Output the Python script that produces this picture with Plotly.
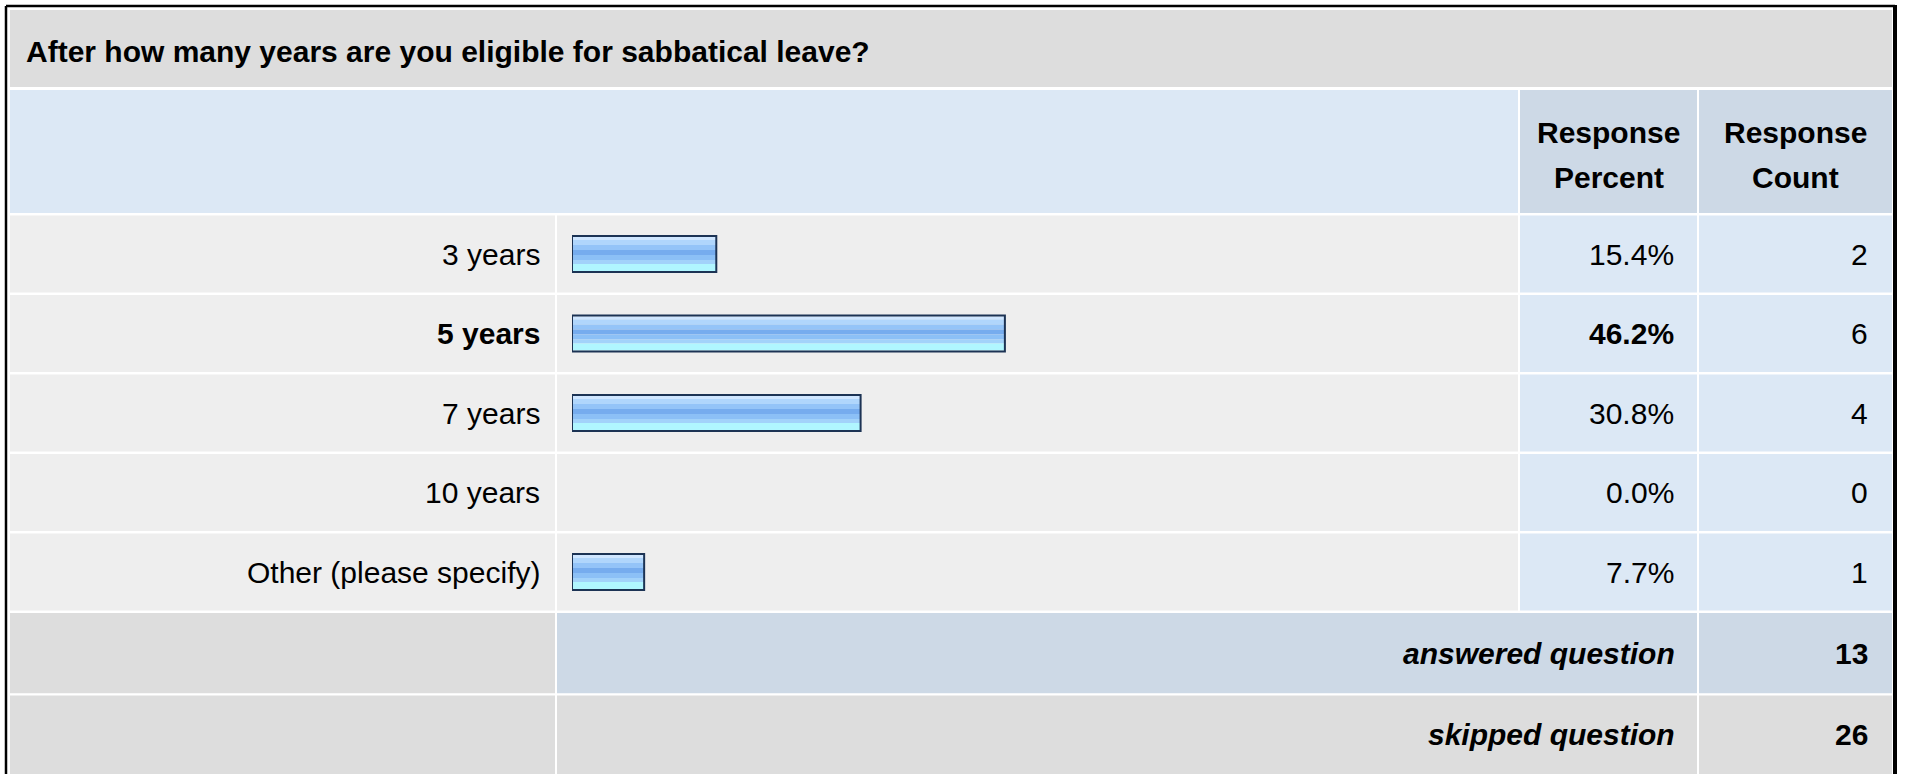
import plotly.graph_objects as go

# ---------------- Data ----------------
question = "After how many years are you eligible for sabbatical leave?"
categories = ["3 years", "5 years", "7 years", "10 years", "Other (please specify)"]
percents = [15.4, 46.2, 30.8, 0.0, 7.7]
counts = [2, 6, 4, 0, 1]
answered_count = 13
skipped_count = 26
header_cols = [["Response", "Percent"], ["Response", "Count"]]

# ---------------- Layout constants (pixels) ----------------
W, H = 1907, 774
FONT = "Arial, 'Liberation Sans', sans-serif"
FS = 30

X_LEFT, X_LBL_END = 10, 555
X_BAR0, X_BAR_END = 557, 1518
X_PCT0, X_PCT_END = 1520, 1697
X_CNT0, X_CNT_END = 1699, 1892

ROW_TOP = 214.25
ROW_PITCH = 79.5
GAP = 2.5

GRAY = "#dddddd"
ROW_GRAY = "#eeeeee"
LIGHT_BLUE = "#dce8f5"
STEEL = "#cdd9e6"


def rect(x0, y0, x1, y1, color):
    return dict(type="rect", xref="x", yref="y", x0=x0, y0=y0, x1=x1, y1=y1,
                fillcolor=color, line=dict(width=0), layer="below")


def label(x, y, text, anchor="right", bold=False, italic=False, size=FS):
    if bold:
        text = "<b>" + text + "</b>"
    if italic:
        text = "<i>" + text + "</i>"
    return dict(x=x, y=y, xref="x", yref="y", text=text, showarrow=False,
                xanchor=anchor, yanchor="middle",
                font=dict(family=FONT, size=size, color="#000000"))


shapes = []
annotations = []

# ---------------- Title band ----------------
shapes.append(rect(X_LEFT, 10, X_CNT_END, 87, GRAY))
annotations.append(label(24, 51, question, anchor="left", bold=True))

# ---------------- Header band ----------------
shapes.append(rect(X_LEFT, 90, X_BAR_END, 213, LIGHT_BLUE))
shapes.append(rect(X_PCT0, 90, X_PCT_END, 213, STEEL))
shapes.append(rect(X_CNT0, 90, X_CNT_END, 213, STEEL))
for (x0, x1), lines in zip([(X_PCT0, X_PCT_END), (X_CNT0, X_CNT_END)], header_cols):
    xc = (x0 + x1) / 2
    annotations.append(label(xc, 132, lines[0], anchor="center", bold=True))
    annotations.append(label(xc, 177, lines[1], anchor="center", bold=True))

# ---------------- Data rows ----------------
top_pct = max(percents)
for i, (cat, pct, cnt) in enumerate(zip(categories, percents, counts)):
    y0 = ROW_TOP + i * ROW_PITCH + GAP / 2
    y1 = y0 + ROW_PITCH - GAP
    yc = (y0 + y1) / 2
    bold = pct == top_pct
    shapes.append(rect(X_LEFT, y0, X_LBL_END, y1, ROW_GRAY))
    shapes.append(rect(X_BAR0, y0, X_BAR_END, y1, ROW_GRAY))
    shapes.append(rect(X_PCT0, y0, X_PCT_END, y1, LIGHT_BLUE))
    shapes.append(rect(X_CNT0, y0, X_CNT_END, y1, LIGHT_BLUE))
    annotations.append(label(542, yc, cat, bold=bold))
    annotations.append(label(1676, yc, f"{pct:.1f}%", bold=bold))
    annotations.append(label(1870, yc, str(cnt)))

# ---------------- Summary rows ----------------
ya0, ya1 = 613, 693.3
shapes.append(rect(X_LEFT, ya0, X_LBL_END, ya1, GRAY))
shapes.append(rect(X_BAR0, ya0, X_PCT_END, ya1, STEEL))
shapes.append(rect(X_CNT0, ya0, X_CNT_END, ya1, STEEL))
annotations.append(label(1677, (ya0 + ya1) / 2, "answered question", bold=True, italic=True))
annotations.append(label(1870, (ya0 + ya1) / 2, str(answered_count), bold=True))

ys0, ys1 = 695.6, 776
shapes.append(rect(X_LEFT, ys0, X_LBL_END, ys1, GRAY))
shapes.append(rect(X_BAR0, ys0, X_PCT_END, ys1, GRAY))
shapes.append(rect(X_CNT0, ys0, X_CNT_END, ys1, GRAY))
annotations.append(label(1677, (ys0 + 774) / 2, "skipped question", bold=True, italic=True))
annotations.append(label(1870, (ys0 + 774) / 2, str(skipped_count), bold=True))

# ---------------- Outer border ----------------
border = dict(color="#000000", width=2.5)
shapes.append(dict(type="line", xref="x", yref="y", x0=6, y0=6, x1=1895, y1=6, line=border))
shapes.append(dict(type="line", xref="x", yref="y", x0=6, y0=6, x1=6, y1=780, line=border))
shapes.append(dict(type="line", xref="x", yref="y", x0=1895, y0=5, x1=1895, y1=780,
                   line=dict(color="#000000", width=4)))

# ---------------- Bars (gradient stripes + outline) ----------------
stripes = [
    (-17, -14, "#cfe6ff"),
    (-14, -9, "#b0d6fc"),
    (-9, -4, "#94c4f8"),
    (-4, 1, "#76acee"),
    (1, 6, "#8cc0f6"),
    (6, 10, "#a2d2fa"),
    (10, 17, "#b0f6ff"),
]

fig = go.Figure()
for top, bottom, color in stripes:
    fig.add_trace(go.Bar(
        y=categories, x=percents, orientation="h",
        offset=top / ROW_PITCH, width=(bottom - top) / ROW_PITCH,
        marker=dict(color=color, line=dict(width=0)),
        xaxis="x2", yaxis="y2", hoverinfo="skip", showlegend=False,
    ))

fig.add_trace(go.Bar(
    y=categories, x=percents, orientation="h",
    offset=-18 / ROW_PITCH, width=36 / ROW_PITCH,
    marker=dict(color="rgba(0,0,0,0)",
                line=dict(color="#1c3354", width=[2 if p > 0 else 0 for p in percents])),
    xaxis="x2", yaxis="y2", hoverinfo="skip", showlegend=False,
))

bar_x0 = 572
bar_x100 = 1509
fig.update_layout(
    width=W, height=H,
    margin=dict(l=0, r=0, t=0, b=0),
    paper_bgcolor="#ffffff", plot_bgcolor="rgba(0,0,0,0)",
    barmode="overlay",
    xaxis=dict(range=[0, W], visible=False, domain=[0, 1]),
    yaxis=dict(range=[H, 0], visible=False, domain=[0, 1]),
    xaxis2=dict(range=[0, 100], visible=False, anchor="y2",
                domain=[bar_x0 / W, bar_x100 / W]),
    yaxis2=dict(type="category", categoryorder="array", categoryarray=categories,
                range=[len(categories) - 0.5, -0.5], visible=False, anchor="x2",
                domain=[1 - (ROW_TOP + len(categories) * ROW_PITCH) / H, 1 - ROW_TOP / H]),
    shapes=shapes,
    annotations=annotations,
    showlegend=False,
)

# page body has a default 8px margin; drop it so the figure fills the window
fig.write_html("out.html",
               config={"displayModeBar": False},
               post_script="document.body.style.margin='0px';document.body.style.overflow='hidden';")
